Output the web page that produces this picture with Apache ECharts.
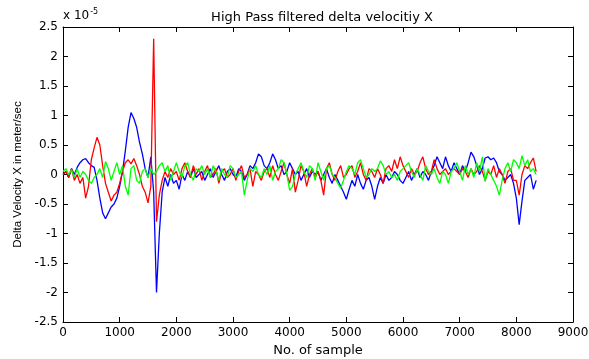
<!DOCTYPE html>
<html>
<head>
<meta charset="utf-8">
<script src="https://cdn.jsdelivr.net/npm/echarts@6/dist/echarts.min.js"></script>
<style>
html,body{margin:0;padding:0;background:#fff;}
#c{width:589px;height:359px;}
</style>
</head>
<body>
<div id="c"></div>
<script>
// sample step between read values
var sampleStep = 50;
var xTicks = [0,1000,2000,3000,4000,5000,6000,7000,8000,9000];
var yTicks = [-2.5,-2,-1.5,-1,-0.5,0,0.5,1,1.5,2,2.5];

// values in units of 1e-5 m/s, one every 50 samples from 0 to 8350
var redVals = [
 0.0, 0.05, -0.05, 0.1, -0.1, 0.0, -0.15, -0.05, -0.4, -0.2,
 0.25, 0.45, 0.63, 0.5, 0.15, -0.15, -0.3, -0.45, -0.35, -0.3,
 -0.15, 0.05, 0.2, 0.25, 0.18, 0.27, 0.15, 0.0, -0.2, -0.3,
 -0.48, -0.2, 2.3, -0.8, -0.35, -0.1, 0.05, -0.05, 0.1, 0.0,
 0.05, -0.1, 0.1, 0.2, 0.05, -0.05, 0.15, 0.0, 0.1, -0.1,
 0.05, 0.15, -0.05, 0.0, 0.1, -0.15, 0.05, 0.1, -0.05, 0.0,
 0.1, -0.1, 0.05, 0.15, -0.05, 0.0, 0.1, -0.2, 0.05, 0.0,
 -0.1, 0.05, 0.1, -0.05, 0.15, 0.0, -0.1, 0.05, 0.2, 0.0,
 -0.15, 0.1, -0.3, -0.1, 0.15, 0.05, -0.2, 0.0, 0.1, -0.05,
 0.05, -0.1, -0.35, 0.1, 0.2, 0.0, -0.1, 0.05, 0.15, -0.05,
 0.0, 0.1, 0.15, -0.05, 0.05, 0.2, 0.0, -0.1, 0.1, 0.05,
 -0.05, 0.1, 0.0, -0.15, 0.1, 0.15, 0.05, 0.25, 0.1, 0.3,
 0.15, 0.05, -0.05, 0.1, 0.0, 0.05, 0.2, 0.3, 0.1, 0.0,
 0.05, 0.25, 0.1, 0.0, 0.05, 0.1, 0.0, 0.05, 0.1, 0.05,
 0.0, 0.1, 0.05, -0.05, 0.1, 0.0, 0.05, 0.15, 0.05, -0.1,
 0.05, 0.0, 0.15, -0.05, 0.1, 0.0, -0.15, 0.05, 0.1, -0.1,
 -0.1, -0.35, 0.0, 0.15, 0.1, 0.2, 0.28, 0.05
];
var blueVals = [
 0.0, 0.05, -0.05, 0.1, 0.0, 0.12, 0.2, 0.25, 0.27, 0.2,
 0.15, 0.12, -0.1, -0.4, -0.65, -0.75, -0.65, -0.55, -0.5, -0.4,
 -0.2, 0.05, 0.4, 0.8, 1.05, 0.95, 0.8, 0.55, 0.35, 0.1,
 -0.05, 0.3, -0.3, -2.0, -1.0, -0.3, -0.05, -0.2, 0.0, -0.15,
 -0.1, -0.25, 0.0, -0.1, 0.05, -0.05, 0.1, -0.05, 0.0, 0.05,
 -0.1, 0.0, 0.1, -0.05, 0.05, 0.15, 0.0, -0.1, 0.05, 0.1,
 0.0, -0.05, 0.1, 0.05, -0.1, 0.0, 0.15, 0.1, 0.2, 0.35,
 0.3, 0.15, 0.1, 0.2, 0.35, 0.25, 0.1, 0.15, 0.0, 0.05,
 0.2, 0.1, 0.0, 0.05, -0.1, 0.0, 0.1, -0.05, 0.05, 0.0,
 0.05, -0.1, 0.0, 0.1, -0.05, -0.15, 0.0, -0.1, -0.2, -0.3,
 -0.42, -0.25, -0.1, -0.2, 0.0, -0.15, -0.25, -0.1, -0.05, -0.2,
 -0.42, -0.2, -0.05, -0.15, 0.0, -0.1, -0.05, 0.05, 0.0, -0.1,
 -0.15, -0.05, 0.05, -0.1, 0.0, 0.1, -0.05, 0.05, 0.0, -0.1,
 0.05, 0.15, 0.3, 0.2, 0.1, 0.3, 0.15, 0.05, 0.2, 0.1,
 0.0, 0.15, 0.05, 0.2, 0.38, 0.3, 0.15, 0.0, 0.1, 0.28,
 0.3, 0.25, 0.28, 0.2, 0.05, 0.0, -0.1, -0.05, 0.0, -0.15,
 -0.4, -0.85, -0.45, -0.1, -0.05, 0.0, -0.25, -0.1
];
var greenVals = [
 0.05, 0.1, 0.0, 0.08, -0.05, 0.1, -0.05, 0.05, 0.0, -0.1,
 -0.15, -0.05, 0.0, 0.1, -0.05, 0.22, 0.1, -0.1, 0.05, 0.2,
 0.0, 0.15, -0.2, -0.35, 0.1, 0.15, -0.1, -0.15, 0.05, 0.1,
 -0.05, 0.1, 0.0, 0.05, 0.15, 0.2, 0.05, 0.15, -0.1, 0.05,
 0.2, 0.05, -0.05, 0.15, 0.2, 0.0, -0.1, 0.1, 0.05, 0.15,
 0.0, 0.1, -0.05, 0.15, 0.05, -0.1, 0.1, 0.0, -0.05, 0.15,
 0.1, -0.05, 0.0, 0.05, -0.35, -0.1, 0.1, 0.05, 0.15, 0.0,
 -0.05, 0.1, 0.0, 0.15, -0.1, 0.05, 0.1, 0.25, 0.2, 0.0,
 -0.27, -0.2, 0.0, 0.1, 0.2, 0.05, -0.05, 0.15, 0.1, -0.1,
 0.2, 0.05, -0.1, 0.1, 0.15, 0.0, -0.05, -0.15, -0.23, -0.1,
 0.05, 0.15, 0.1, 0.0, 0.2, 0.25, 0.1, -0.05, 0.0, 0.1,
 0.05, 0.1, 0.23, 0.15, 0.0, 0.05, -0.05, 0.0, -0.1, 0.05,
 0.1, 0.15, 0.2, 0.05, -0.05, 0.1, 0.0, -0.1, 0.15, 0.05,
 0.0, 0.1, -0.05, -0.15, 0.05, 0.0, -0.15, 0.05, 0.1, 0.2,
 0.05, -0.1, 0.15, 0.0, 0.1, -0.05, 0.2, 0.05, 0.3, -0.12,
 0.1, 0.0, -0.1, -0.2, -0.35, -0.1, 0.1, 0.2, 0.05, 0.25,
 0.2, 0.1, 0.32, 0.15, 0.25, 0.05, 0.1, 0.0
];

function pairs(vals){
  var out = [];
  for (var i = 0; i < vals.length; i++) out.push([i * sampleStep, vals[i]]);
  return out;
}

var WIDE = '"DejaVu Sans", Verdana, sans-serif';
var NARROW = '"Liberation Sans", Arial, Helvetica, sans-serif';
var chart = echarts.init(document.getElementById('c'), null, {renderer:'canvas'});
var axisLine = {show:true, onZero:false, lineStyle:{color:'#000', width:1}};
var tickIn = {show:true, inside:true, length:5, lineStyle:{color:'#000'}};
var lbl = {color:'#000', fontFamily:WIDE, fontSize:12, formatter:function(v){return String(v);}};

chart.setOption({
  animation:false,
  backgroundColor:'#fff',
  title:{
    text:'High Pass filtered delta velocitiy X',
    left:317, top:6, textAlign:'center',
    textStyle:{fontFamily:WIDE, fontSize:13, fontWeight:'normal', color:'#000'}
  },
  graphic:[{
    type:'text', left:63, top:8,
    style:{
      text:'{a|x 10}{b|-5}',
      rich:{
        a:{fontFamily:WIDE, fontSize:12, fill:'#000', verticalAlign:'bottom', lineHeight:14},
        b:{fontFamily:WIDE, fontSize:8, fill:'#000', verticalAlign:'top', lineHeight:8, padding:[0,0,7,1]}
      }
    }
  }],
  grid:{left:63, right:16, top:27, bottom:37, containLabel:false, outerBoundsMode:'none'},
  xAxis:[{
    type:'value', min:0, max:9000, interval:1000, position:'bottom',
    axisLine:axisLine, axisTick:tickIn, splitLine:{show:false},
    axisLabel:Object.assign({margin:5}, lbl),
    name:'No. of sample', nameLocation:'middle', nameGap:20,
    nameTextStyle:{fontFamily:WIDE, fontSize:13, color:'#000'}
  },{
    type:'value', min:0, max:9000, interval:1000, position:'top',
    axisLine:axisLine, axisTick:tickIn, splitLine:{show:false}, axisLabel:{show:false}
  }],
  yAxis:[{
    type:'value', min:-2.5, max:2.5, interval:0.5, position:'left',
    axisLine:axisLine, axisTick:tickIn, splitLine:{show:false},
    axisLabel:Object.assign({margin:5}, lbl),
    name:'Delta Velocity X in meter/sec', nameLocation:'middle', nameGap:39, nameRotate:90,
    nameTextStyle:{fontFamily:NARROW, fontSize:11.5, color:'#000'}
  },{
    type:'value', min:-2.5, max:2.5, interval:0.5, position:'right',
    axisLine:axisLine, axisTick:tickIn, splitLine:{show:false}, axisLabel:{show:false}
  }],
  series:[
    {type:'line', name:'blue', data:pairs(blueVals), showSymbol:false, lineStyle:{color:'#0000ff', width:1.3}, itemStyle:{color:'#0000ff'}},
    {type:'line', name:'red', data:pairs(redVals), showSymbol:false, lineStyle:{color:'#ff0000', width:1.3}, itemStyle:{color:'#ff0000'}},
    {type:'line', name:'green', data:pairs(greenVals), showSymbol:false, lineStyle:{color:'#00ff00', width:1.3}, itemStyle:{color:'#00ff00'}}
  ]
});
</script>
</body>
</html>
